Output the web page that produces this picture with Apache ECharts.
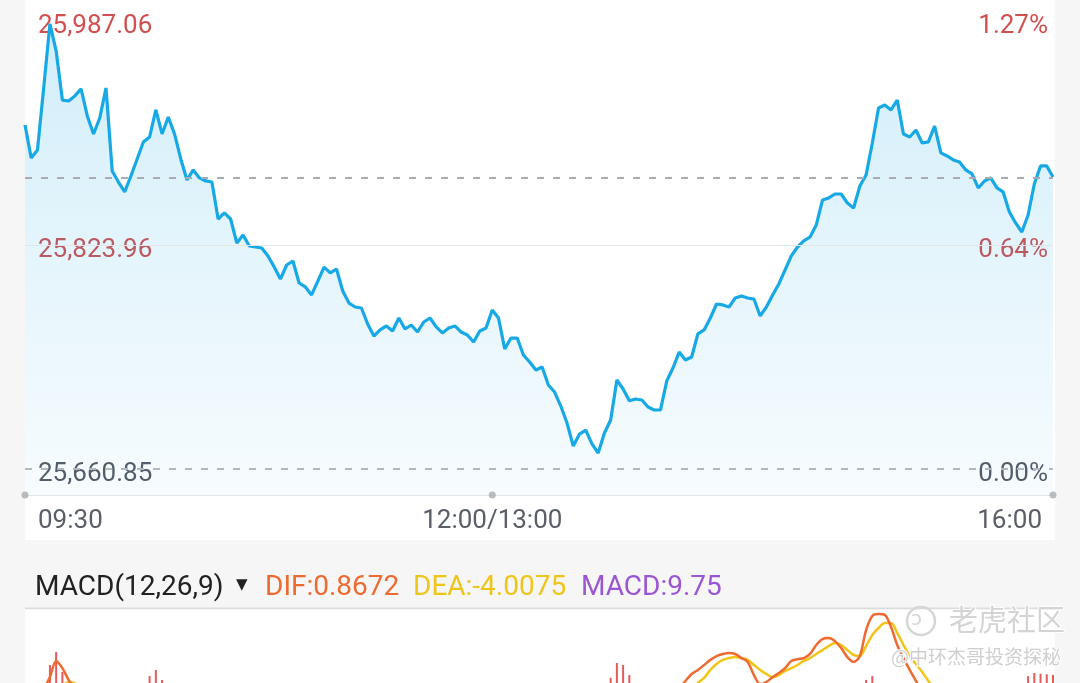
<!DOCTYPE html>
<html><head><meta charset="utf-8">
<script src="https://cdn.jsdelivr.net/npm/echarts@6/dist/echarts.min.js"></script>
<style>html,body{margin:0;padding:0;background:#f6f6f6;}#c{width:1080px;height:683px;}</style>
</head><body><div id="c"></div>
<script>
// Intraday index price, sampled every 2 minutes (09:30-12:00, 13:00-16:00)
const prices = [
25911.3,25887.3,25893.1,25938.3,25984.9,25965.2,25929.5,25928.8,25932.5,25937.6,
25917.9,25904.8,25916.4,25938.3,25877.8,25869.8,25862.6,25874.2,25886.6,25899.0,
25902.6,25922.3,25904.8,25917.2,25904.8,25886.6,25871.3,25878.6,25872.8,25870.6,
25869.8,25842.9,25847.3,25842.9,25825.4,25831.2,25823.2,25822.5,25821.8,25816.0,
25807.9,25799.2,25809.4,25812.3,25796.3,25793.4,25787.6,25797.7,25807.9,25803.6,
25806.5,25790.5,25781.7,25778.8,25778.1,25766.4,25757.7,25762.1,25765.0,25761.3,
25770.8,25762.8,25765.7,25760.6,25767.9,25770.8,25764.3,25759.9,25763.5,25765.0,
25760.6,25758.4,25753.3,25761.3,25763.5,25776.6,25770.8,25748.2,25756.2,25756.2,
25743.9,25738.8,25732.9,25735.1,25722.0,25716.9,25706.7,25694.3,25677.6,25686.3,
25689.2,25679.1,25672.5,25687.1,25696.5,25725.7,25719.1,25710.5,25711.8,25711.1,
25706.0,25703.8,25703.8,25724.9,25734.4,25746.0,25740.2,25742.4,25759.2,25762.1,
25770.8,25781.0,25780.3,25778.8,25785.4,25786.8,25785.4,25784.6,25772.3,25778.8,
25787.6,25795.6,25805.8,25816.0,25822.5,25826.9,25829.8,25838.5,25856.7,25858.2,
25861.1,25861.1,25854.5,25850.9,25866.9,25874.9,25898.2,25923.7,25925.9,25922.3,
25929.5,25904.8,25902.6,25907.7,25898.2,25899.0,25910.6,25891.0,25888.8,25885.9,
25884.4,25878.6,25875.7,25865.5,25870.6,25872.8,25865.5,25862.6,25848.0,25840.0,
25833.4,25845.8,25868.4,25881.5,25881.5,25873.5
];
const dif = [
0,-2,-3,4,8.9,15.2,12.4,7.8,4.5,2.5,
0,-3,-3.5,-2,-6,-9,-10,-11,-10,-8,
-6,-3,-3,-2,-2.5,-4,-6,-7,-8,-8.5,
-9,-12,-13,-14,-16,-17,-18,-18.5,-19,-19.5,
-20,-21,-20.5,-20,-21,-21.5,-22,-21,-19,-18,
-17,-18,-19.5,-20.5,-21,-22,-23,-23,-22.5,-22,
-21,-20.5,-20,-19.5,-18.5,-17.5,-17,-17,-16.5,-16,
-16,-16,-16.5,-16,-15,-13,-12.5,-14,-14.5,-15,
-16,-17.5,-19,-20,-22,-24,-26,-28.5,-31,-32,
-32.5,-33,-33.5,-32,-29,-25,-22.5,-20.5,-18.5,-17,
-13,-11,-8.5,-4,0.5,4.5,7.4,10.1,11.7,13.6,
15.6,17.1,17.9,18.3,17.9,16.3,14.8,9.7,6.2,7.0,
8.9,10.5,12.4,15.2,15.9,16.3,17.9,21.4,23.7,24.1,
22.9,20.2,16.7,14.8,17.1,27.2,32.7,33.4,33.1,28.4,
21.4,16.3,11.7,7.4,3,-1,-4,-7,-9,-10.5,
-11.5,-12.5,-13.5,-15,-15.5,-15,-15,-15.5,-17,-16,
-15,-11,-7,-4,-1.5,0.8672
];
const dea = [
0,-0.5,-1,0,2,4,5.5,7.0,6.5,5,
3.5,2,0.5,-0.5,-1.5,-3,-4.5,-6,-7,-7.5,
-7.5,-7,-6.5,-6,-5.5,-5.5,-5.5,-6,-6.5,-7,
-7.5,-8.5,-9.5,-10.5,-11.5,-12.5,-13.5,-14.5,-15.5,-16,
-17,-17.5,-18,-18.5,-19,-19.5,-20,-20,-20,-19.5,
-19,-19,-19,-19.5,-19.5,-20,-20.5,-21,-21.5,-21.5,
-21.5,-21.5,-21,-21,-20.5,-20,-19.5,-19,-18.5,-18,
-17.5,-17.5,-17,-17,-16.5,-16,-15.5,-15,-15,-15,
-15,-15.5,-16,-16.5,-17.5,-18.5,-19.5,-21,-22.5,-24,
-25.5,-26.5,-27.5,-28.5,-28.5,-28,-27,-26,-25,-24,
-22.5,-21,-19,-16.5,-13,-8,-2,2.5,6.6,8.6,
11.7,14.0,15.6,16.3,16.7,16.3,15.6,13.6,11.7,10.1,
8.9,9.7,11.3,12.4,13.6,15.2,16.3,17.9,19.4,21.0,
22.2,21.4,19.4,17.5,17.1,21.0,25.3,28.0,29.9,29.9,
26.1,21.4,17.1,14.0,10.9,7.4,4.5,1.5,-1.5,-4,
-6,-8,-9.5,-11,-12,-12.5,-13,-13.5,-14.5,-17,
-16.5,-15.5,-13,-9.5,-6.5,-4.0075
];
const macd = [
0,1,-3,5,13.6,18.7,10.9,1.6,-4,-5,
-7,-10,-8,-3,-9,-12,-11,-10,-6,-1,
9.3,11.7,7.8,5,3,3,-1,-2,-3,-3,
-3,-7,-7,-7,-9,-9,-9,-8,-7,-7,
-6,-7,-5,-3,-4,-4,-4,-2,2,3,
4,2,-1,-2,-3,-4,-5,-4,-2,-1,
1,2,2,3,4,5,5,4,4,4,
3,3,1,2,3,6,6,2,1,0,
-2,-4,-6,-7,-9,-11,-13,-15,-17,-16,
-14,-13,-12,-7,8.6,14.4,13.6,9.7,5,3,
2,3,5,6,4,3,2,2,3,4,
5,5,4,4,2,0,-2,-8,-11,-6,
0,1.6,2,5,4,2,3,6,6,5,
1,-2,-5,-5,0,7.8,9.3,6,5,-3,
-9,-9,-11,-13,-15,-16,-17,-17,-15,-13,
-11,-9,-8,-8,-7,-5,-4,-4,-5,2,
3,9.3,10.5,10.2,10,9.75
];
const tickValues = [25660.85, 25823.96, 25987.06];
const leftTickLabels = ['25,660.85', '25,823.96', '25,987.06'];
const rightTickLabels = ['0.00%', '0.64%', '1.27%'];
const prevClose = 25872.8;
const axisMin = 25641.92;
const timeTickLabels = {0: '09:30', 75: '12:00/13:00', 165: '16:00'};
const headerName = 'MACD(12,26,9)';
const headerDif = 'DIF:0.8672';
const headerDea = 'DEA:-4.0075';
const headerMacd = 'MACD:9.75';

// category labels: one every 2 trading minutes
const categories = [];
for (let k = 0; k < prices.length; k++) {
  let m = k * 2, t;
  if (m <= 150) t = 9 * 60 + 30 + m; else t = 13 * 60 + (m - 150);
  categories.push(String(Math.floor(t / 60)).padStart(2, '0') + ':' + String(t % 60).padStart(2, '0'));
}
const lastIdx = categories.length - 1;

function tickIdx(v) { for (let i = 0; i < tickValues.length; i++) if (Math.abs(tickValues[i] - v) < 0.02) return i; return -1; }

const FONT = 'Roboto';
const yLabelBase = {inside: true, fontSize: 26, fontFamily: FONT, verticalAlign: 'top', lineHeight: 11,
  customValues: tickValues,
  color: function (v) { return v > tickValues[0] + 1 ? '#d24f4f' : '#555a64'; }};
const chart = echarts.init(document.getElementById('c'));
chart.setOption({
  backgroundColor: '#f6f6f6',
  animation: false,
  textStyle: {fontFamily: FONT},
  grid: [
    {left: 25, right: 27, top: 21, height: 474, outerBoundsMode: 'none', containLabel: false},
    {left: 25, right: 27, top: 610, height: 180, outerBoundsMode: 'none', containLabel: false}
  ],
  xAxis: [
    {type: 'category', gridIndex: 0, data: categories, boundaryGap: false,
     axisLine: {show: true, lineStyle: {color: '#e4e5e8', width: 1}},
     axisTick: {show: false}, splitLine: {show: false},
     axisLabel: {
       interval: function (i) { return timeTickLabels[i] !== undefined; },
       margin: 13,
       formatter: function (v, i) {
         if (i === 0) return '{l|' + timeTickLabels[0] + '}';
         if (i === lastIdx) return '{r|' + timeTickLabels[lastIdx] + '}';
         return '{m|' + timeTickLabels[i] + '}';
       },
       alignMinLabel: 'left', alignMaxLabel: 'right',
       rich: {
         l: {fontSize: 26, color: '#5a5e67', fontFamily: FONT, padding: [0, 0, 0, 13]},
         m: {fontSize: 26, color: '#5a5e67', fontFamily: FONT},
         r: {fontSize: 26, color: '#5a5e67', fontFamily: FONT, padding: [0, 11, 0, 0]}
       }
     }},
    {type: 'category', gridIndex: 1, data: categories, boundaryGap: false, show: false}
  ],
  yAxis: [
    {type: 'value', gridIndex: 0, min: axisMin, max: tickValues[2], position: 'left',
     splitLine: {show: false}, axisLine: {show: false}, axisTick: {show: false},
     axisLabel: Object.assign({}, yLabelBase, {margin: 13,
       formatter: function (v) { const i = tickIdx(v); return i < 0 ? '' : leftTickLabels[i]; }})},
    {type: 'value', gridIndex: 0, min: axisMin, max: tickValues[2], position: 'right',
     splitLine: {show: false}, axisLine: {show: false}, axisTick: {show: false},
     axisLabel: Object.assign({}, yLabelBase, {margin: 5,
       formatter: function (v) { const i = tickIdx(v); return i < 0 ? '' : rightTickLabels[i]; }})},
    {type: 'value', gridIndex: 1, min: -35, max: 35, show: false}
  ],
  graphic: [
    {type: 'rect', z: -10, silent: true, shape: {x: 25, y: 0, width: 1030, height: 540}, style: {fill: '#ffffff'}},
    {type: 'rect', z: -10, silent: true, shape: {x: 25, y: 610, width: 1030, height: 73}, style: {fill: '#ffffff'}},
    {type: 'rect', z: -10, silent: true, shape: {x: 25, y: 607.5, width: 1030, height: 1.5}, style: {fill: '#dcdcdc'}},
    {type: 'text', left: 35, top: 574, style: {text: headerName, fontSize: 28, fontFamily: FONT, fill: '#222222'}},
    {type: 'text', left: 236, top: 578, style: {text: '▼', fontSize: 15, fontFamily: 'DejaVu Sans', fill: '#222222'}},
    {type: 'text', left: 265, top: 574, style: {text: headerDif, fontSize: 28, fontFamily: FONT, fill: '#ee6a30'}},
    {type: 'text', left: 413, top: 574, style: {text: headerDea, fontSize: 28, fontFamily: FONT, fill: '#efc51a'}},
    {type: 'text', left: 581, top: 574, style: {text: headerMacd, fontSize: 28, fontFamily: FONT, fill: '#9b57d3'}},
    {type: 'circle', z: 100, silent: true, shape: {cx: 921, cy: 621, r: 14}, style: {fill: 'none', stroke: '#d6d6d6', lineWidth: 2.5}},
    {type: 'text', z: 100, left: 911, top: 610, style: {text: 'ↄ', fontSize: 20, fill: '#d6d6d6', fontFamily: 'DejaVu Sans'}},
    {type: 'text', z: 100, left: 948, top: 604, style: {text: '老虎社区', fontSize: 29, fontFamily: 'Noto Sans CJK SC', fill: '#d4d4d4', stroke: '#ffffff', lineWidth: 2}},
    {type: 'text', z: 100, left: 890, top: 646, style: {text: '@中环杰哥投资探秘', fontSize: 19, fontFamily: 'Noto Sans CJK SC', fill: '#cfcfcf', stroke: '#ffffff', lineWidth: 2}}
  ],
  series: [
    {type: 'line', xAxisIndex: 0, yAxisIndex: 0, data: prices, showSymbol: false, symbol: 'none',
     lineStyle: {color: '#16a9e6', width: 3.2}, z: 3,
     areaStyle: {color: new echarts.graphic.LinearGradient(0, 0, 0, 1, [
       {offset: 0, color: 'rgba(26,167,228,0.28)'},
       {offset: 1, color: 'rgba(26,167,228,0.05)'}])},
     markLine: {silent: true, symbol: 'none', label: {show: false}, animation: false,
       data: [
         {yAxis: prevClose, lineStyle: {type: [7, 9], color: '#a8abb2', width: 2}},
         {yAxis: tickValues[0], lineStyle: {type: [7, 9], color: '#b4b7bd', width: 2}},
         {yAxis: tickValues[1], lineStyle: {type: 'solid', color: '#e3e5e9', width: 1}}
       ]}},
    {type: 'scatter', xAxisIndex: 0, yAxisIndex: 0, symbolSize: 7, z: 5, clip: false,
     itemStyle: {color: '#a9abb0'},
     data: [[0, axisMin], [75, axisMin], [lastIdx, axisMin]]},
    {type: 'bar', xAxisIndex: 1, yAxisIndex: 2, data: macd, barWidth: 2, z: 2,
     itemStyle: {color: function (p) { return p.value >= 0 ? '#e65a5a' : '#3cb371'; }}},
    {type: 'line', xAxisIndex: 1, yAxisIndex: 2, data: dif, showSymbol: false, symbol: 'none', smooth: 0.3,
     lineStyle: {color: '#ee6a30', width: 2.5}, z: 4},
    {type: 'line', xAxisIndex: 1, yAxisIndex: 2, data: dea, showSymbol: false, symbol: 'none', smooth: 0.3,
     lineStyle: {color: '#f2c416', width: 2.5}, z: 3}
  ]
});
</script>
</body></html>
